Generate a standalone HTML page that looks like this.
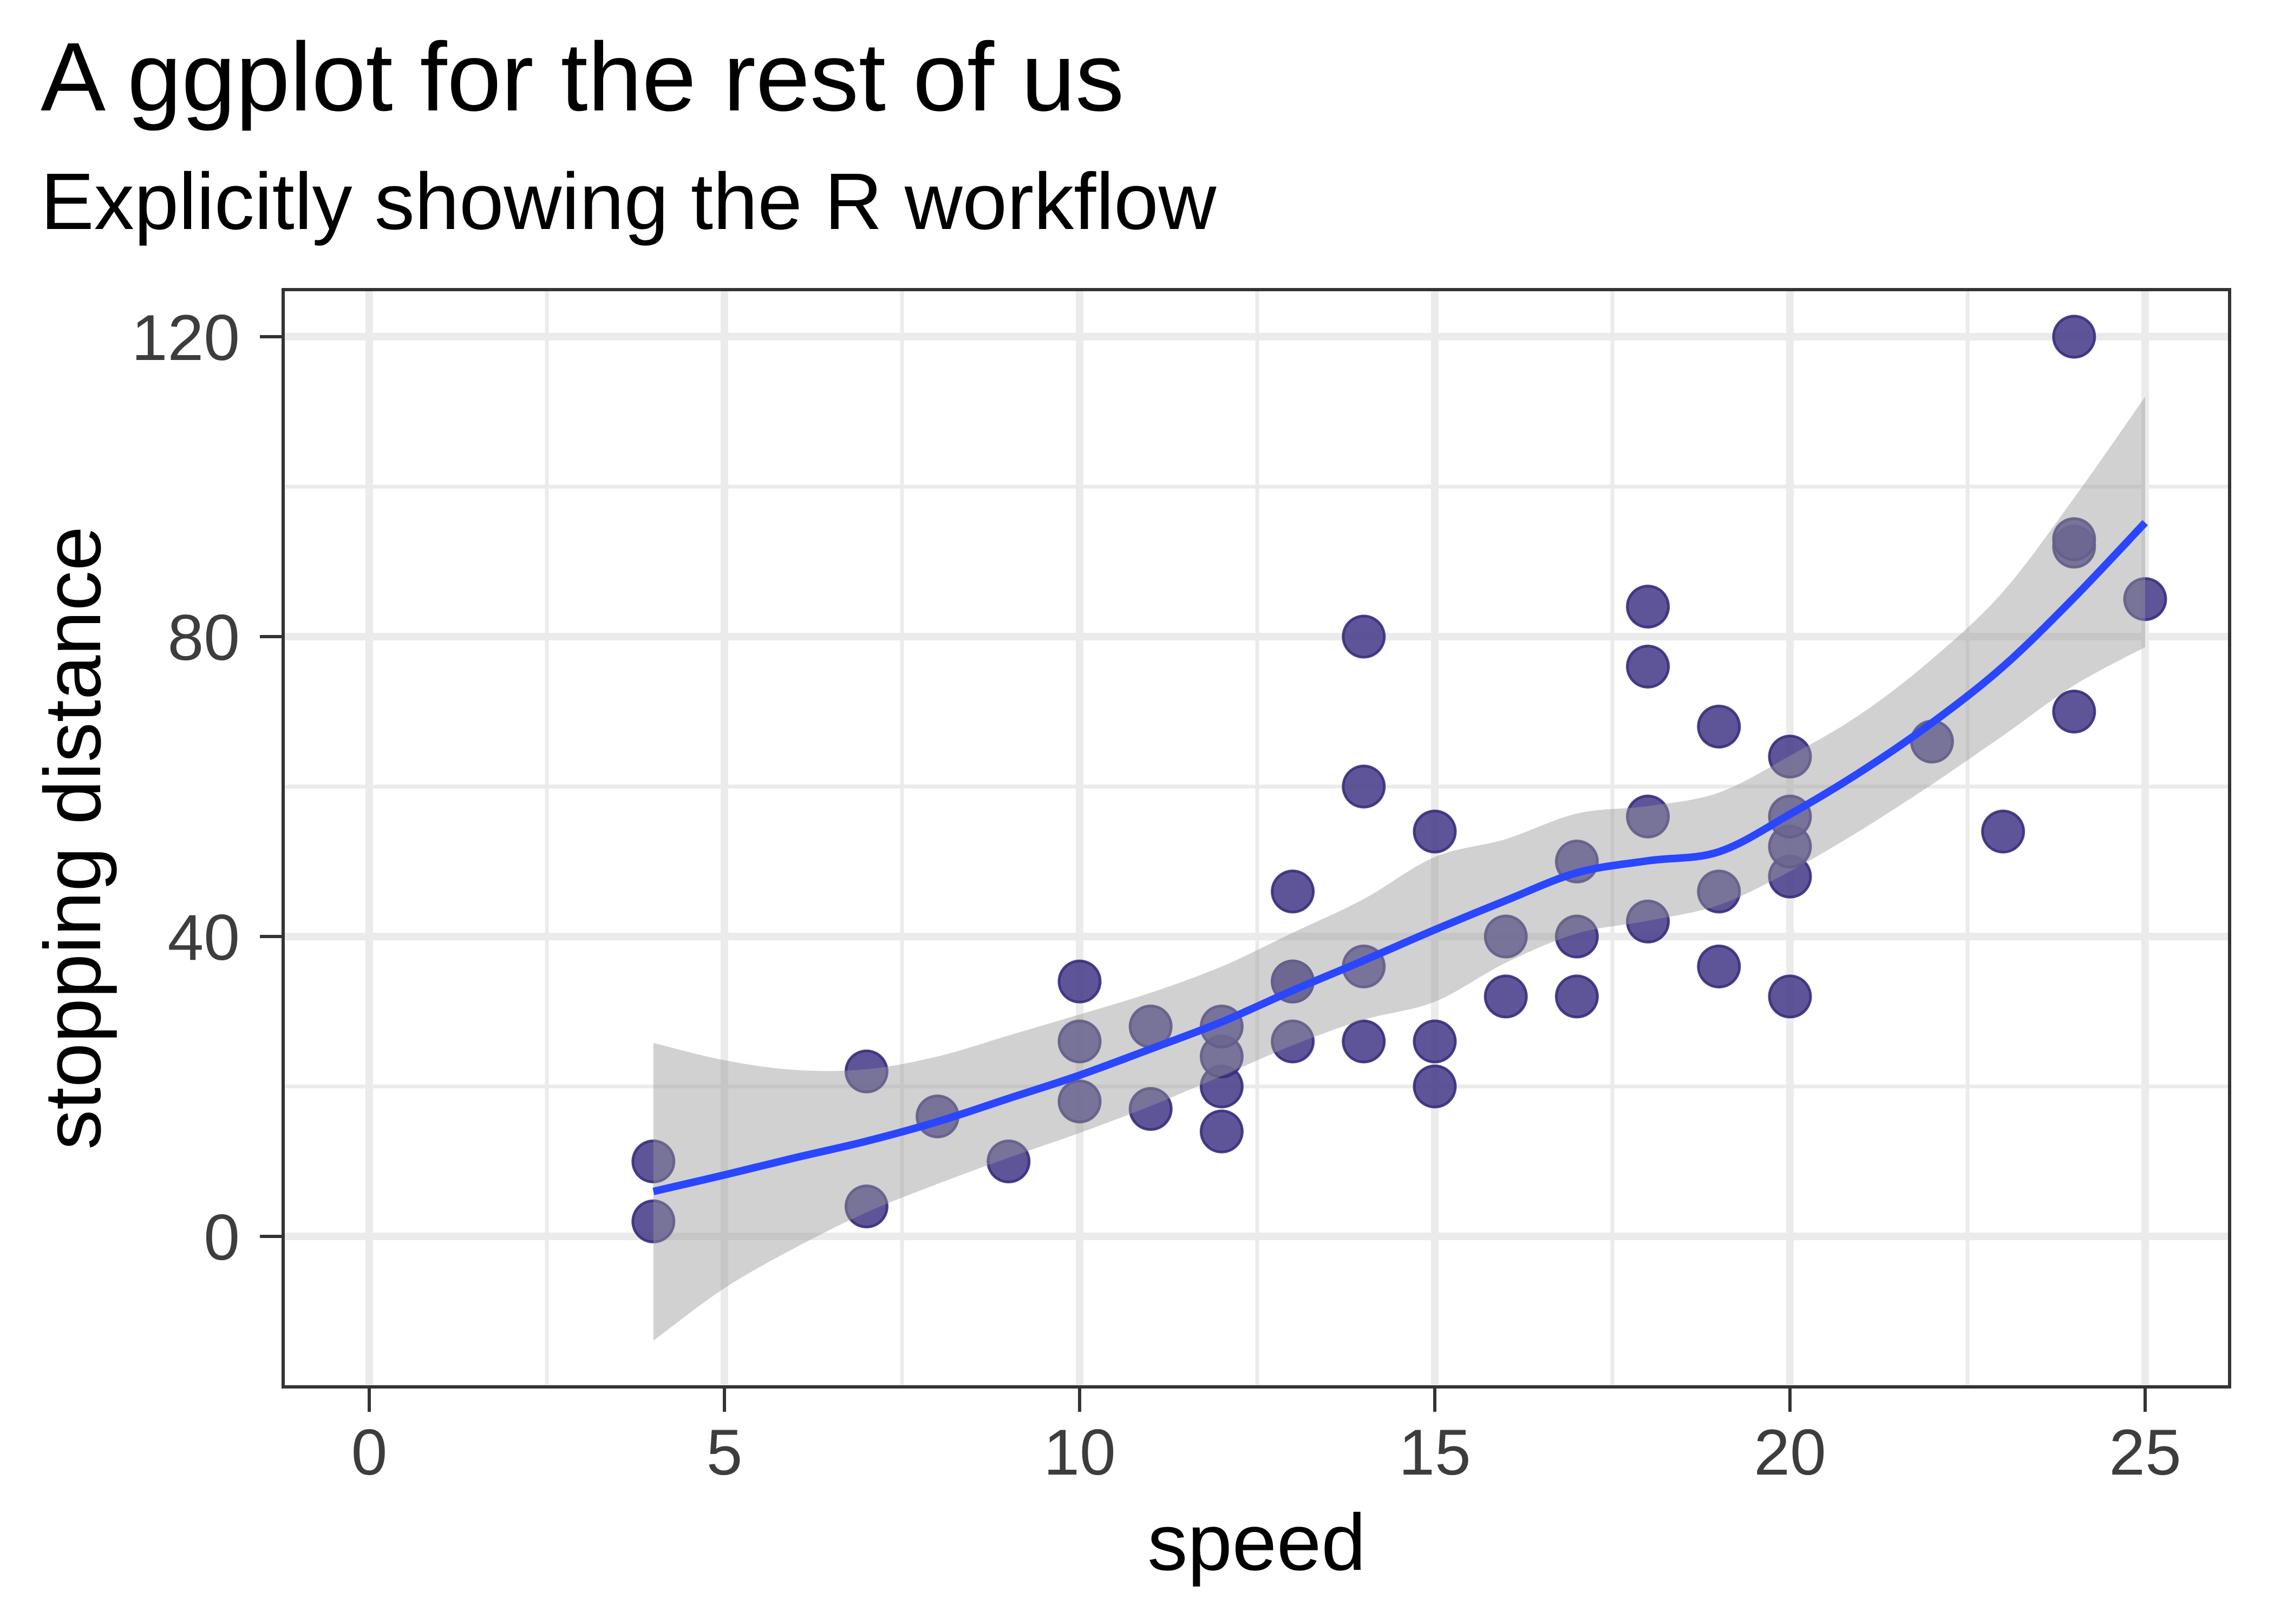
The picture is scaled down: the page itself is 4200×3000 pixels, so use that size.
<!DOCTYPE html>
<html><head><meta charset="utf-8"><style>
html,body{margin:0;padding:0;background:#fff;}
svg{display:block;font-family:"Liberation Sans",Arial,sans-serif;}
</style></head><body>
<svg id="chart" width="4200" height="3000" viewBox="0 0 4200 3000" xmlns="http://www.w3.org/2000/svg">
<rect x="0" y="0" width="4200" height="3000" fill="#fff"/>
<text x="75" y="204" font-size="180" fill="#000">A ggplot for the rest of us</text>
<text x="75" y="423" font-size="148" fill="#000">Explicitly showing the R workflow</text>
<g id="grid"></g>
<g id="points"></g>
<g id="smooth"></g>
<rect x="523" y="535" width="3595" height="2027" fill="none" stroke="#333" stroke-width="6"/>
<g id="axes"></g>
<text x="2321" y="2900" font-size="148" text-anchor="middle" fill="#000">speed</text>
<text transform="translate(185,1548) rotate(-90)" x="0" y="0" font-size="148" text-anchor="middle" fill="#000">stopping distance</text>
</svg>
<script>
const speed = [4,4,7,7,8,9,10,10,10,11,11,12,12,12,12,13,13,13,13,14,14,14,14,15,15,15,16,16,17,17,17,18,18,18,18,19,19,19,20,20,20,20,20,22,23,24,24,24,24,25];
const dist = [2,10,4,22,16,10,18,26,34,17,28,14,20,24,28,26,34,34,46,26,36,60,80,20,26,54,32,40,32,40,50,42,56,76,84,36,46,68,32,48,52,56,64,66,54,70,92,93,120,85];
const fitX = [4,5,6,7,8,9,10,11,12,13,14,15,16,17,18,19,20,21,22,23,24,25];
const fitY = [6.0,8.2,10.5,12.7,15.3,18.4,21.5,25.0,28.6,32.8,36.8,40.9,44.8,48.5,50.1,51.3,56.3,62.0,68.5,76.0,85.2,95.2];
const fitUpper = [25.8,23.5,22.2,22.3,24.0,26.8,29.6,32.5,36.0,40.5,45.0,50.6,53.0,56.4,57.4,59.2,64.1,69.7,77.0,86.0,98.5,112];
const fitLower = [-13.9,-6.9,-1.5,3.2,7.0,10.5,13.8,17.4,21.4,25.5,28.9,31.3,36.5,40.4,42.1,44.2,48.7,54.2,60.3,66.8,73.5,78.6];
const xTicks = [0,5,10,15,20,25];
const xMinor = [2.5,7.5,12.5,17.5,22.5];
const yTicks = [0,40,80,120];
const yMinor = [-20,20,60,100];

const NS = 'http://www.w3.org/2000/svg';
const PL = 520, PR = 4121, PT = 532, PB = 2565;
function sx(v){ return 682 + v * 131.2; }
function sy(v){ return 2284 - v * 13.85; }
function mk(tag, attrs, parent){
  const e = document.createElementNS(NS, tag);
  for (const k in attrs) e.setAttribute(k, attrs[k]);
  parent.appendChild(e);
  return e;
}
function spline(pts){
  let d = 'M' + pts[0][0] + ',' + pts[0][1];
  for (let i = 0; i < pts.length - 1; i++){
    const p0 = pts[i-1] || pts[i], p1 = pts[i], p2 = pts[i+1], p3 = pts[i+2] || p2;
    const c1x = p1[0] + (p2[0]-p0[0])/6, c1y = p1[1] + (p2[1]-p0[1])/6;
    const c2x = p2[0] - (p3[0]-p1[0])/6, c2y = p2[1] - (p3[1]-p1[1])/6;
    d += ' C' + c1x + ',' + c1y + ' ' + c2x + ',' + c2y + ' ' + p2[0] + ',' + p2[1];
  }
  return d;
}
const grid = document.getElementById('grid');
xMinor.forEach(v => {
  const l = mk('line', {x1: sx(v), x2: sx(v), y1: PT, y2: PB, stroke: '#ebebeb', 'stroke-width': 7}, grid);
  
  
});
yMinor.forEach(v => {
  const l = mk('line', {x1: PL, x2: PR, y1: sy(v), y2: sy(v), stroke: '#ebebeb', 'stroke-width': 7}, grid);
  
  
});
xTicks.forEach(v => {
  const l = mk('line', {x1: sx(v), x2: sx(v), y1: PT, y2: PB, stroke: '#ebebeb', 'stroke-width': 14}, grid);
  
  
});
yTicks.forEach(v => {
  const l = mk('line', {x1: PL, x2: PR, y1: sy(v), y2: sy(v), stroke: '#ebebeb', 'stroke-width': 14}, grid);
  
  
});
const pg = document.getElementById('points');
speed.forEach((s, i) => {
  const c = mk('circle', {cx: sx(s), cy: sy(dist[i]), r: 38, fill: 'rgba(72,61,139,0.88)', stroke: 'rgba(55,45,125,0.9)', 'stroke-width': 5}, pg);
  
  
});
const sg = document.getElementById('smooth');
const up = fitX.map((x, i) => [sx(x), sy(fitUpper[i])]);
const lo = fitX.map((x, i) => [sx(x), sy(fitLower[i])]).reverse();
let rd = spline(up) + ' L' + lo[0][0] + ',' + lo[0][1] + spline(lo).replace(/^M[^ ]+/, '') + ' Z';
const rib = mk('path', {d: rd, fill: 'rgba(153,153,153,0.45)', stroke: 'none'}, sg);


const ln = mk('path', {d: spline(fitX.map((x, i) => [sx(x), sy(fitY[i])])), fill: 'none', stroke: '#2A46FF', 'stroke-width': 14}, sg);


const ax = document.getElementById('axes');
xTicks.forEach(v => {
  const t = mk('line', {x1: sx(v), x2: sx(v), y1: PB, y2: 2608, stroke: '#333', 'stroke-width': 6}, ax);
  
  
  const tx = mk('text', {x: sx(v), y: 2724, 'font-size': 120, 'text-anchor': 'middle', fill: '#3d3d3d'}, ax);
  tx.textContent = v;
  
  
});
yTicks.forEach(v => {
  const t = mk('line', {x1: 480, x2: PL, y1: sy(v), y2: sy(v), stroke: '#333', 'stroke-width': 6}, ax);
  
  
  const tx = mk('text', {x: 443, y: sy(v) + 43, 'font-size': 120, 'text-anchor': 'end', fill: '#3d3d3d'}, ax);
  tx.textContent = v;
  
  
});
</script>
</body></html>
